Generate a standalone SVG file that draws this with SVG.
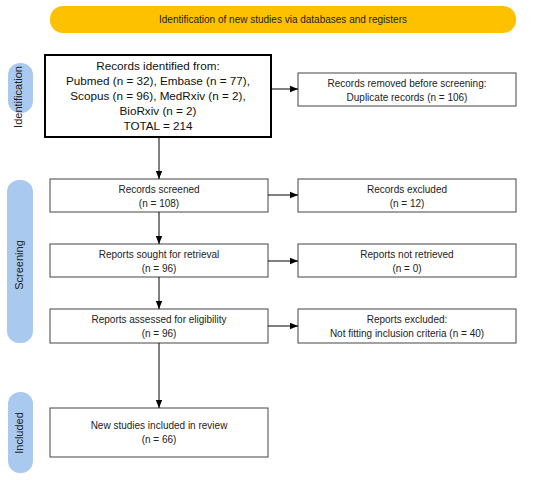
<svg xmlns="http://www.w3.org/2000/svg" width="550" height="481" viewBox="0 0 550 481">
<defs>
<marker id="arr" viewBox="0 0 10 10" refX="10" refY="5" markerWidth="8" markerHeight="8" markerUnits="userSpaceOnUse" orient="auto">
<path d="M0,1 L10,5 L0,9 z" fill="#000"/>
</marker>
<style>
.box{fill:#fff;stroke:#444;stroke-width:1}
.main{fill:#fff;stroke:#000;stroke-width:2}
.t{font-family:"Liberation Sans",Arial,sans-serif;font-size:10px;fill:#222;text-anchor:middle}
.big{font-size:11.7px;fill:#111}
.side{fill:#a9c9ee}
.st{font-family:"Liberation Sans",Arial,sans-serif;font-size:11px;fill:#222;text-anchor:middle}
.c{stroke:#000;stroke-width:1;fill:none;marker-end:url(#arr)}
</style>
</defs>
<rect width="550" height="481" fill="#fff"/>
<g id="banner">
<rect x="50" y="6" width="466" height="27" rx="13" fill="#fdc100"/>
<text class="t" x="283" y="22.5" font-size="9.5">Identification of new studies via databases and registers</text>
</g>
<g id="side-identification">
<rect class="side" x="8" y="63" width="25" height="50" rx="12"/>
<text class="st" transform="translate(22,97) rotate(-90)">Identification</text>
</g>
<g id="side-screening">
<rect class="side" x="7" y="180" width="26" height="163" rx="12"/>
<text class="st" transform="translate(23,265) rotate(-90)">Screening</text>
</g>
<g id="side-included">
<rect class="side" x="8" y="392" width="25" height="81" rx="12"/>
<text class="st" transform="translate(23,433) rotate(-90)">Included</text>
</g>
<g id="identified">
<rect class="main" x="45" y="55" width="226" height="82"/>
<text class="t big" x="158" y="70">Records identified from:</text>
<text class="t big" x="158" y="85">Pubmed (n = 32), Embase (n = 77),</text>
<text class="t big" x="158" y="100">Scopus (n = 96), MedRxiv (n = 2),</text>
<text class="t big" x="158" y="115">BioRxiv (n = 2)</text>
<text class="t big" x="158" y="130">TOTAL = 214</text>
</g>
<g id="removed">
<rect class="box" x="298" y="73" width="218" height="33"/>
<text class="t" x="407" y="86.5">Records removed before screening:</text>
<text class="t" x="407" y="100.5">Duplicate records (n = 106)</text>
</g>
<g id="screened">
<rect class="box" x="50" y="179" width="218" height="33"/>
<text class="t" x="159" y="192.5">Records screened</text>
<text class="t" x="159" y="206.5">(n = 108)</text>
</g>
<g id="excluded">
<rect class="box" x="298" y="179" width="218" height="33"/>
<text class="t" x="407" y="192.5">Records excluded</text>
<text class="t" x="407" y="206.5">(n = 12)</text>
</g>
<g id="sought">
<rect class="box" x="50" y="244" width="218" height="33"/>
<text class="t" x="159" y="257.5">Reports sought for retrieval</text>
<text class="t" x="159" y="271.5">(n = 96)</text>
</g>
<g id="notretrieved">
<rect class="box" x="298" y="244" width="218" height="33"/>
<text class="t" x="407" y="257.5">Reports not retrieved</text>
<text class="t" x="407" y="271.5">(n = 0)</text>
</g>
<g id="assessed">
<rect class="box" x="50" y="309" width="218" height="34"/>
<text class="t" x="159" y="323">Reports assessed for eligibility</text>
<text class="t" x="159" y="337">(n = 96)</text>
</g>
<g id="reportsexcluded">
<rect class="box" x="298" y="309" width="218" height="34"/>
<text class="t" x="407" y="323">Reports excluded:</text>
<text class="t" x="407" y="337">Not fitting inclusion criteria (n = 40)</text>
</g>
<g id="included">
<rect class="box" x="50" y="408" width="218" height="49"/>
<text class="t" x="159" y="428.5">New studies included in review</text>
<text class="t" x="159" y="442.5">(n = 66)</text>
</g>
<g id="connectors">
<line class="c" x1="271" y1="89" x2="298" y2="89"/>
<line class="c" x1="159" y1="138" x2="159" y2="179"/>
<line class="c" x1="268" y1="195" x2="298" y2="195"/>
<line class="c" x1="159" y1="212" x2="159" y2="244"/>
<line class="c" x1="268" y1="261" x2="298" y2="261"/>
<line class="c" x1="159" y1="277" x2="159" y2="309"/>
<line class="c" x1="268" y1="326" x2="298" y2="326"/>
<line class="c" x1="159" y1="343" x2="159" y2="408"/>
</g>
</svg>
